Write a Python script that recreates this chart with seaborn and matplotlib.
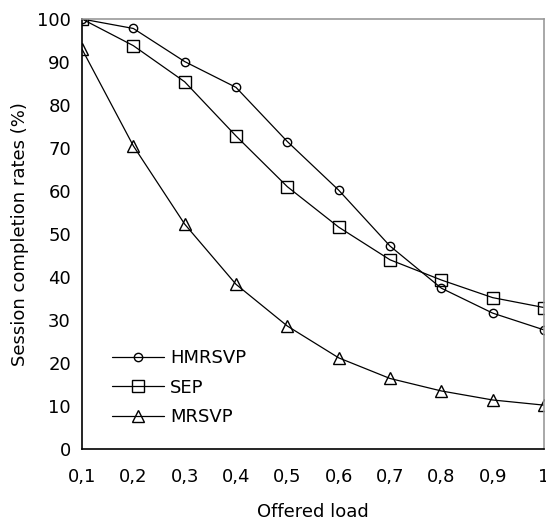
import matplotlib
matplotlib.use("Agg")
import matplotlib.pyplot as plt
import seaborn as sns
import pandas as pd

offered_load = [0.1, 0.2, 0.3, 0.4, 0.5, 0.6, 0.7, 0.8, 0.9, 1.0]
hmrsvp = [100, 97.8, 90.1, 84.1, 71.5, 60.2, 47.2, 37.4, 31.6, 27.7]
sep = [100, 93.8, 85.4, 72.8, 61.0, 51.6, 44.0, 39.3, 35.2, 32.9]
mrsvp = [93.0, 70.5, 52.3, 38.3, 28.6, 21.2, 16.4, 13.5, 11.4, 10.2]
x_tick_labels = ["0,1", "0,2", "0,3", "0,4", "0,5", "0,6", "0,7", "0,8", "0,9", "1"]
y_ticks = [0, 10, 20, 30, 40, 50, 60, 70, 80, 90, 100]

sns.set_style("white")
plt.rcParams["font.family"] = ["DejaVu Sans"]
plt.rcParams["text.color"] = "black"
plt.rcParams["axes.labelcolor"] = "black"
plt.rcParams["xtick.color"] = "black"
plt.rcParams["ytick.color"] = "black"

df = pd.DataFrame({"load": offered_load, "HMRSVP": hmrsvp, "SEP": sep, "MRSVP": mrsvp})

fig = plt.figure(figsize=(5.46, 5.31), dpi=100)
ax = fig.add_axes([82 / 546, 1 - 449 / 531, (544 - 82) / 546, (449 - 19) / 531])

styles = [("HMRSVP", "o", 6), ("SEP", "s", 8), ("MRSVP", "^", 9)]
for name, mk, ms in styles:
    sns.lineplot(data=df, x="load", y=name, ax=ax, color="black", lw=0.9,
                 marker=mk, markersize=ms, markerfacecolor="none",
                 markeredgecolor="black", markeredgewidth=1.0, label=name)

ax.set_xlim(0.1, 1.0)
ax.set_ylim(0, 100)
ax.set_xticks(offered_load)
ax.set_xticklabels(x_tick_labels)
ax.set_yticks(y_ticks)
ax.tick_params(axis="x", direction="in", length=5, width=1, color="black",
               labelsize=13, pad=14)
ax.tick_params(axis="y", length=0, labelsize=13, pad=8)

for side in ["left", "bottom"]:
    ax.spines[side].set_color("black")
    ax.spines[side].set_linewidth(1.2)
for side in ["top", "right"]:
    ax.spines[side].set_color("#999999")
    ax.spines[side].set_linewidth(1.2)

ax.set_xlabel("Offered load", fontsize=13, labelpad=12)
ax.set_ylabel("Session completion rates (%)", fontsize=13, labelpad=6)

leg = ax.legend(loc="lower left", bbox_to_anchor=(0.03, 0.015), frameon=False,
                fontsize=13, handlelength=2.9, handletextpad=0.3, labelspacing=0.65)

fig.savefig("out.png", dpi=100)
